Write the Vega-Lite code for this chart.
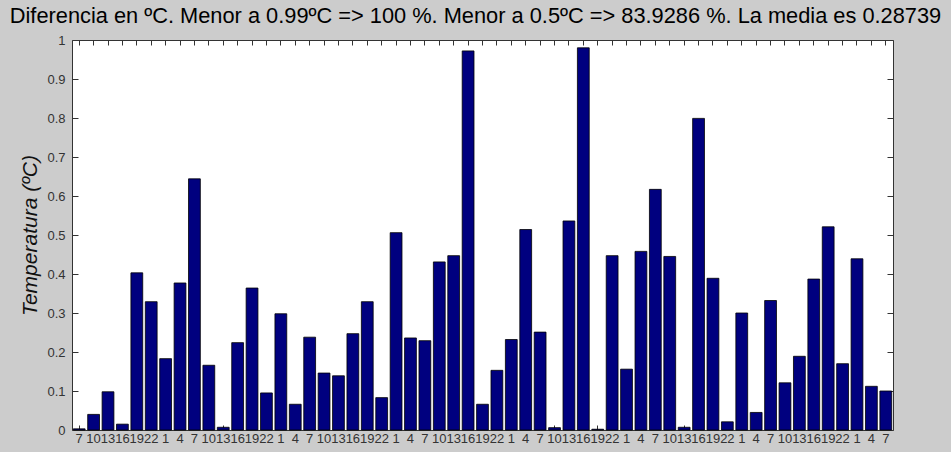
{
  "$schema": "https://vega.github.io/schema/vega-lite/v6.json",
  "width": 821,
  "height": 390,
  "autosize": {"type": "none"},
  "padding": {"left": 72, "top": 40, "right": 58, "bottom": 22},
  "background": "#cccccc",
  "title": {
    "text": "Diferencia en ºC. Menor a 0.99ºC  => 100 %. Menor a 0.5ºC => 83.9286 %. La media es 0.28739",
    "font": "Liberation Sans",
    "fontSize": 21.8,
    "fontWeight": "normal",
    "color": "#000000",
    "anchor": "middle",
    "dx": -7,
    "offset": 6
  },
  "config": {
    "view": {"fill": "white", "stroke": "#333333", "strokeWidth": 1},
    "axis": {
      "grid": false,
      "domain": false,
      "tickColor": "#333333",
      "tickWidth": 1,
      "labelColor": "#333333",
      "labelFont": "Liberation Sans",
      "titleFont": "Liberation Sans"
    }
  },
  "data": {
    "values": [
      {"t": "1|7", "v": 0.003},
      {"t": "1|10", "v": 0.040},
      {"t": "1|13", "v": 0.098},
      {"t": "1|16", "v": 0.015},
      {"t": "1|19", "v": 0.403},
      {"t": "1|22", "v": 0.329},
      {"t": "2|1", "v": 0.183},
      {"t": "2|4", "v": 0.377},
      {"t": "2|7", "v": 0.644},
      {"t": "2|10", "v": 0.166},
      {"t": "2|13", "v": 0.007},
      {"t": "2|16", "v": 0.224},
      {"t": "2|19", "v": 0.364},
      {"t": "2|22", "v": 0.095},
      {"t": "3|1", "v": 0.298},
      {"t": "3|4", "v": 0.066},
      {"t": "3|7", "v": 0.238},
      {"t": "3|10", "v": 0.146},
      {"t": "3|13", "v": 0.139},
      {"t": "3|16", "v": 0.247},
      {"t": "3|19", "v": 0.329},
      {"t": "3|22", "v": 0.083},
      {"t": "4|1", "v": 0.506},
      {"t": "4|4", "v": 0.236},
      {"t": "4|7", "v": 0.229},
      {"t": "4|10", "v": 0.431},
      {"t": "4|13", "v": 0.447},
      {"t": "4|16", "v": 0.972},
      {"t": "4|19", "v": 0.066},
      {"t": "4|22", "v": 0.153},
      {"t": "5|1", "v": 0.232},
      {"t": "5|4", "v": 0.514},
      {"t": "5|7", "v": 0.251},
      {"t": "5|10", "v": 0.006},
      {"t": "5|13", "v": 0.536},
      {"t": "5|16", "v": 0.980},
      {"t": "5|19", "v": 0.002},
      {"t": "5|22", "v": 0.447},
      {"t": "6|1", "v": 0.156},
      {"t": "6|4", "v": 0.458},
      {"t": "6|7", "v": 0.617},
      {"t": "6|10", "v": 0.445},
      {"t": "6|13", "v": 0.007},
      {"t": "6|16", "v": 0.799},
      {"t": "6|19", "v": 0.389},
      {"t": "6|22", "v": 0.021},
      {"t": "7|1", "v": 0.300},
      {"t": "7|4", "v": 0.045},
      {"t": "7|7", "v": 0.332},
      {"t": "7|10", "v": 0.121},
      {"t": "7|13", "v": 0.189},
      {"t": "7|16", "v": 0.387},
      {"t": "7|19", "v": 0.521},
      {"t": "7|22", "v": 0.170},
      {"t": "8|1", "v": 0.439},
      {"t": "8|4", "v": 0.112},
      {"t": "8|7", "v": 0.100}
    ]
  },
  "layer": [
    {
      "mark": {"type": "bar", "color": "#00007f", "stroke": "#000000", "strokeWidth": 0.8},
      "encoding": {
        "x": {
          "field": "t",
          "type": "ordinal",
          "sort": null,
          "scale": {"paddingInner": 0.18, "paddingOuter": 0.09},
          "axis": {
            "orient": "bottom",
            "title": null,
            "labelAngle": 0,
            "labelExpr": "split(datum.value, '|')[1]",
            "labelOverlap": false,
            "labelFontSize": 13,
            "tickSize": -5,
            "labelPadding": 7
          }
        },
        "y": {
          "field": "v",
          "type": "quantitative",
          "scale": {"domain": [0, 1], "nice": false},
          "axis": {
            "orient": "left",
            "title": "Temperatura (ºC)",
            "titleFontStyle": "italic",
            "titleFontWeight": "normal",
            "titleFontSize": 21,
            "titleColor": "#111111",
            "titlePadding": 6,
            "values": [0, 0.1, 0.2, 0.3, 0.4, 0.5, 0.6, 0.7, 0.8, 0.9, 1],
            "format": "~g",
            "labelFontSize": 13,
            "tickSize": -6,
            "labelPadding": 13
          }
        }
      }
    },
    {
      "mark": {"type": "bar", "opacity": 0},
      "encoding": {
        "x": {
          "field": "t",
          "type": "ordinal",
          "sort": null,
          "axis": {"orient": "top", "title": null, "labels": false, "tickSize": -5}
        },
        "y": {
          "field": "v",
          "type": "quantitative",
          "axis": {
            "orient": "right",
            "title": null,
            "labels": false,
            "values": [0, 0.1, 0.2, 0.3, 0.4, 0.5, 0.6, 0.7, 0.8, 0.9, 1],
            "tickSize": -6
          }
        }
      }
    }
  ],
  "resolve": {"axis": {"x": "independent", "y": "independent"}}
}
